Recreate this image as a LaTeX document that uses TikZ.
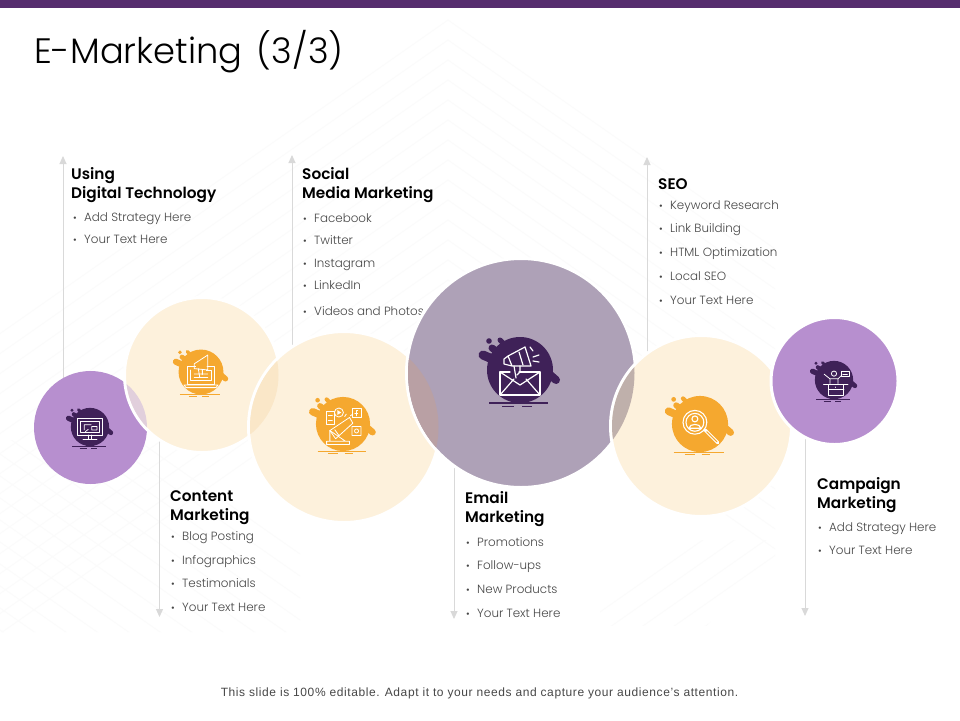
\documentclass[tikz,border=0pt]{standalone}
\usepackage{fontspec}
\setmainfont{Poppins}[UprightFont=* Light,BoldFont=* SemiBold]
\newfontfamily\footfont{Liberation Sans}[LetterSpace=4.9]
\usetikzlibrary{arrows.meta}
\definecolor{barc}{HTML}{562D6E}
\definecolor{purp}{HTML}{B78FCF}
\definecolor{cream}{HTML}{FDF1DC}
\definecolor{bigc}{HTML}{AEA1B7}
\definecolor{darkb}{HTML}{3F2158}
\definecolor{orng}{HTML}{F5A82F}
\definecolor{lensa}{HTML}{E1CFDC}
\definecolor{lensb}{HTML}{FAE7C8}
\definecolor{lensc}{HTML}{B9A0A4}
\definecolor{lensd}{HTML}{BFB0AB}
\definecolor{pat}{HTML}{FBFBFB}
\definecolor{arrc}{HTML}{D9D9D9}
\tikzset{
  x=1pt,y=-1pt,
  disc/.style={circle,inner sep=0pt,outer sep=0pt,minimum size=#1},
  ringed/.style={draw=white,line width=3pt},
  head/.style={anchor=base west,inner sep=0pt,font=\fontsize{15.3}{18}\selectfont\bfseries,text=black},
  bul/.style={anchor=base west,inner sep=0pt,font=\fontsize{11.9}{14}\selectfont,text=black!72},
  arrowline/.style={draw=arrc,line width=1pt,-{Triangle[width=7pt,length=8pt]}},
  glyph/.style={draw=white,line width=#1,line cap=round,line join=round},
}
\newcommand{\bitem}[4]{\node[bul] (#1) at (#2,#3) {\makebox[12pt][l]{\fontsize{10}{10}\selectfont\hspace{1pt}•}#4};}
% blob: x y scale colour
\newcommand{\blobshape}[4]{%
 \begin{scope}[shift={(#1,#2)},scale=#3]
  \fill[#4] (0,0) circle (33);
  \draw[#4,line width=#3*9pt,line cap=round] (-37,-15) -- (-14,-5);
  \draw[#4,line width=#3*7pt,line cap=round] (-28,-22) -- (-12,-10);
  \draw[#4,line width=#3*5pt,line cap=round] (-20,-30) -- (-8,-18);
  \fill[#4] (-31,-29) circle (2.8);
  \draw[#4,line width=#3*8pt,line cap=round] (36,10) -- (20,-4);
  \draw[#4,line width=#3*1.3pt] (-31,33) -- (28,33);
  \draw[#4,line width=#3*.8pt] (-18,36) -- (-6,36) (2,36) -- (12,36);
 \end{scope}}
\begin{document}
\begin{tikzpicture}
\useasboundingbox (0,0) rectangle (960,720);
\fill[white] (0,0) rectangle (960,720);
% background pattern
\begin{scope}
 \clip (448,8) -- (0,322) -- (0,632) -- (700,632) -- (775,560) -- (775,230) -- cycle;
 \foreach \k in {0,...,15}{
   \draw[pat,line width=.9pt] (-50,{20+\k*20+498*.7}) -- (448,{20+\k*20}) -- (900,{20+\k*20+452*.7});
 }
 \begin{scope}
  \clip (0,440) rectangle (330,632);
  \foreach \k in {0,...,14}{
   \draw[pat,line width=.9pt] (-20,{330+\k*22}) -- (300,{330+\k*22+320*.7});
  }
 \end{scope}
 \begin{scope}
  \clip (600,540) rectangle (775,625);
  \foreach \k in {0,...,8}{
   \draw[pat,line width=.9pt] (560,{640+\k*22}) -- (800,{640+\k*22-240*.7});
  }
 \end{scope}
\end{scope}
\fill[barc] (0,0) rectangle (960,8);
\node[anchor=base west,inner sep=0pt,font=\fontsize{35.3}{40}\selectfont,text=black] (title) at (34,63) {E-Marketing\hspace{5pt} (3/3)};
\node[anchor=base,inner sep=0pt,text=black!72] (foot) at (479.5,696) {\footfont\fontsize{12}{14}\selectfont This slide is 100\% editable. Adapt it to your needs and capture your audience’s attention.};
% connectors
\coordinate (a1s) at (63,400);  \coordinate (a1t) at (63,156);
\coordinate (a2s) at (159.5,420); \coordinate (a2t) at (159.5,617);
\coordinate (a3s) at (292,400); \coordinate (a3t) at (292,155);
\coordinate (a4s) at (454,440); \coordinate (a4t) at (454,619);
\coordinate (a5s) at (647,400); \coordinate (a5t) at (647,157);
\coordinate (a6s) at (805,420); \coordinate (a6t) at (805,616);
\foreach \i in {1,...,6}{\draw[arrowline] (a\i s) -- (a\i t);}
% texts
\node[head] (h1a) at (71,179.5) {Using};
\node[head] (h1b) at (71,198.5) {Digital Technology};
\bitem{b11}{72}{221}{Add Strategy Here}
\bitem{b12}{72}{243}{Your Text Here}
\node[head] (h3a) at (302,179.5) {Social};
\node[head] (h3b) at (302,198.5) {Media Marketing};
\bitem{b31}{302}{222}{Facebook}
\bitem{b32}{302}{244}{Twitter}
\bitem{b33}{302}{267}{Instagram}
\bitem{b34}{302}{289}{LinkedIn}
\bitem{b35}{302}{315}{Videos and Photos}
\node[head] (h5a) at (658,189.5) {SEO};
\bitem{b51}{658}{209}{Keyword Research}
\bitem{b52}{658}{232}{Link Building}
\bitem{b53}{658}{256}{HTML Optimization}
\bitem{b54}{658}{280}{Local SEO}
\bitem{b55}{658}{304}{Your Text Here}
\node[head] (h2a) at (170,501) {Content};
\node[head] (h2b) at (170,520) {Marketing};
\bitem{b21}{170}{540}{Blog Posting}
\bitem{b22}{170}{564}{Infographics}
\bitem{b23}{170}{587}{Testimonials}
\bitem{b24}{170}{611}{Your Text Here}
\node[head] (h4a) at (465,503.5) {Email};
\node[head] (h4b) at (465,522.5) {Marketing};
\bitem{b41}{465}{546}{Promotions}
\bitem{b42}{465}{569}{Follow-ups}
\bitem{b43}{465}{593}{New Products}
\bitem{b44}{465}{617}{Your Text Here}
\node[head] (h6a) at (817,489.5) {Campaign};
\node[head] (h6b) at (817,508.5) {Marketing};
\bitem{b61}{817}{531}{Add Strategy Here}
\bitem{b62}{817}{554}{Your Text Here}
% circles
\node[disc=113pt,fill=purp] (c1) at (90.5,427.5) {};
\node[disc=155pt,fill=cream,ringed] (c2) at (202,375) {};
\begin{scope}\clip (202,375) circle (76); \fill[lensa] (90.5,427.5) circle (56.5);\end{scope}
\node[disc=191pt,fill=cream,ringed] (c3) at (344,427) {};
\begin{scope}\clip (344,427) circle (94); \fill[lensb] (202,375) circle (76.5);\end{scope}
\node[disc=229pt,fill=bigc,ringed] (c4) at (521,373) {};
\begin{scope}\clip (521,373) circle (113); \fill[lensc] (344,427) circle (94.5);\end{scope}
\node[disc=181pt,fill=cream,ringed] (c5) at (701,426) {};
\begin{scope}\clip (701,426) circle (89); \fill[lensd] (521,373) circle (113.5);\end{scope}
\node[disc=127pt,fill=purp,ringed] (c6) at (834.5,381) {};
% icons
\blobshape{90}{427}{.58}{darkb}
\blobshape{201}{372}{.68}{orng}
\blobshape{343}{424}{.82}{orng}
\blobshape{520}{370}{1}{darkb}
\blobshape{700}{424}{.85}{orng}
\blobshape{834}{380}{.58}{darkb}
% monitor
\begin{scope}[shift={(90,427)},scale=.58]
 \draw[glyph=.8pt] (-21,-14) rectangle (21,14) (-16,-10) rectangle (16,9);
 \draw[glyph=.7pt] (-10,5) -- (-10,-4) -- (2,-4) (-3,4) -- (-8,8) (3,-1) rectangle (12,5);
 \draw[glyph=.8pt] (-3,14) -- (-3,21) (3,14) -- (3,21) (-12,22) -- (12,22);
\end{scope}
% laptop + megaphone
\begin{scope}[shift={(201,372)},scale=.68]
 \draw[glyph=.8pt] (-20,-8) -- (-20,18) -- (20,18) -- (20,-8) -- (9,-8) (-20,-8) -- (-8,-8);
 \draw[glyph=.8pt] (-15,-3) -- (-15,13) -- (15,13) -- (15,-3) -- (8,-3);
 \draw[glyph=.8pt] (-25,19) -- (25,19) -- (22,23) -- (-22,23) -- cycle;
 \draw[glyph=.8pt] (-10,-12) -- (10,-25) -- (10,-3) -- (-10,-5) -- cycle (-4,-5) -- (-2,7) (2,-4) -- (2,4) (-10,3) -- (10,3) (-10,8) -- (10,8);
\end{scope}
% social
\begin{scope}[shift={(343,424)},scale=.82]
 \draw[glyph=.8pt] (-20,-15) rectangle (-11,0) (-18,-10) -- (-13,-10) (-18,-5) -- (-13,-5);
 \draw[glyph=.8pt] (-5,-14) circle (5.5);
 \fill[white] (-7,-17) -- (-7,-11) -- (-2,-14) -- cycle;
 \draw[glyph=.8pt] (11,-19) rectangle (22,-8);
 \draw[glyph=.8pt] (18,-16) -- (16,-16) -- (16,-10) (14.5,-13.5) -- (18,-13.5);
 \draw[glyph=.8pt] (11,3) rectangle (22,14) (16.5,8.5) circle (2.5);
 \draw[glyph=.8pt] (-20,21) -- (-20,25) -- (8,25) -- (8,21) -- cycle (-16,21) -- (-16,8) -- (3,21);
 \draw[glyph=.8pt] (-16,8) -- (8,-8) -- (12,-1) -- (-9,18) -- cycle (-10,7) -- (-5,14) (12,-12) -- (9,-10) (4,-12) -- (2,-9);
\end{scope}
% envelope + megaphone
\begin{scope}[shift={(520,370)}]
 \draw[glyph=1.2pt] (-10,2) -- (-20,2) -- (-20,25) -- (20,25) -- (20,2) -- (-1,2);
 \draw[glyph=1.2pt] (-20,2) -- (0,15) -- (20,2) (-20,25) -- (-6,9) (20,25) -- (6,9);
 \draw[glyph=1.2pt] (-12,-14) -- (5,-23) -- (11,-4) -- (-8,-4) (-12,-14) -- (-8,-4) (-12,-14) -- (-16,-11) -- (-16,-6) -- (-8,-4);
 \draw[glyph=1.2pt] (-6,-4) -- (-4,8) (0,-4) -- (0,2) -- (-3,5) (-1,-18) -- (3,-5);
 \draw[glyph=1.2pt] (10,-23) -- (13,-19) (13,-13) -- (19,-15) (13,-9) -- (19,-8);
\end{scope}
% magnifier
\begin{scope}[shift={(700,424)},scale=.85]
 \draw[glyph=1.1pt] (-6,-2) circle (14) (-6,-2) circle (10.5);
 \draw[glyph=1.1pt] (-6,-6) circle (3.5);
 \draw[glyph=1.1pt] (-13,5) .. controls (-13,-1) and (1,-1) .. (1,5) -- cycle;
 \draw[white,line width=3.2pt,line cap=round] (6,7) -- (21,22);
 \draw[orng,line width=1pt,line cap=round] (8,9) -- (20,21);
\end{scope}
% person at desk
\begin{scope}[shift={(834,380)},scale=.58]
 \draw[glyph=.8pt] (-10,7) rectangle (17,26) (-10,16) -- (17,16) (-18,7) -- (24,7);
 \draw[glyph=.8pt] (0,-11) circle (4.5) (-7,6) -- (-7,-2) -- (7,-2) -- (7,6) (-7,-2) -- (-17,-10) (7,-2) -- (12,-7);
 \draw[glyph=.8pt] (12,-14) rectangle (26,-6) (15,-10) -- (23,-10) (3,12) -- (3,13);
\end{scope}
\end{tikzpicture}
\end{document}
